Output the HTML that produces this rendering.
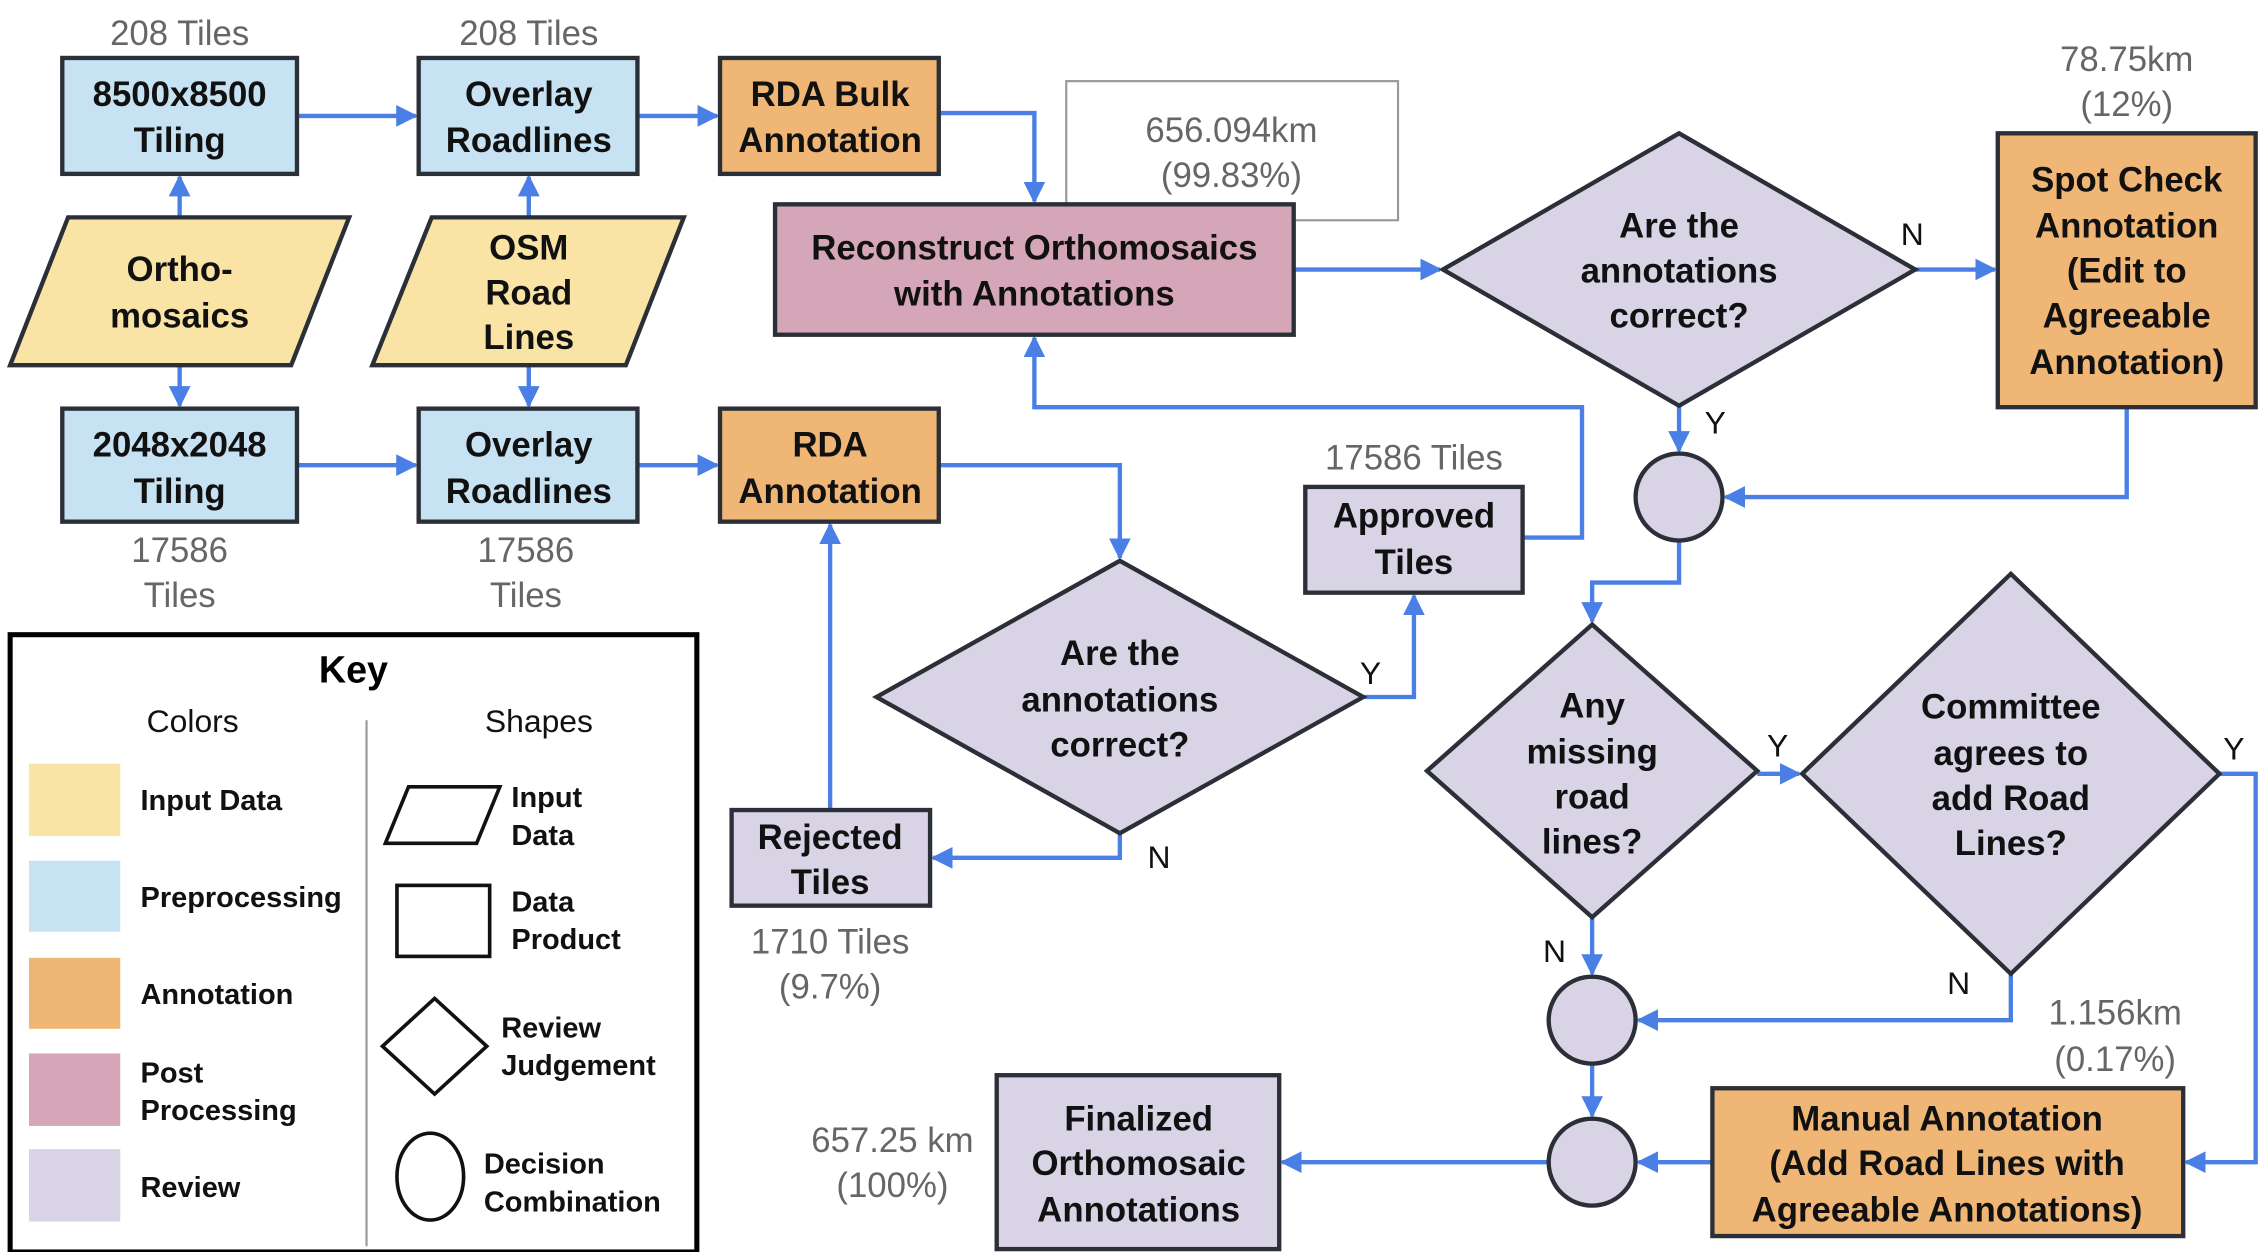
<!DOCTYPE html>
<html><head><meta charset="utf-8"><style>
html,body{margin:0;padding:0;background:#fff;}
svg{display:block;}
text{font-family:"Liberation Sans",sans-serif;}
.t{font-size:24px;font-weight:bold;fill:#111;text-anchor:middle;}
.g{font-size:24px;fill:#666;text-anchor:middle;}
.k{font-size:20px;font-weight:bold;fill:#111;}
.yn{font-size:22px;fill:#111;text-anchor:middle;}
.b{stroke:#2b3038;stroke-width:3;}
.l{stroke:#4a7fe6;stroke-width:3;fill:none;marker-end:url(#a);}
</style></head><body>
<svg width="2260" height="1252" viewBox="0 0 1560 864" preserveAspectRatio="none" xmlns="http://www.w3.org/2000/svg">
<defs><marker id="a" viewBox="0 0 10 10" refX="9" refY="5" markerWidth="5" markerHeight="5" orient="auto"><path d="M0,0L10,5L0,10z" fill="#4a7fe6"/></marker></defs>

<!-- connectors -->
<path class="l" d="M205,80H287"/>
<path class="l" d="M440,80H495"/>
<path class="l" d="M648,78H714V139"/>
<path class="l" d="M124,150V122"/>
<path class="l" d="M124,252V280"/>
<path class="l" d="M365,150V122"/>
<path class="l" d="M365,252V280"/>
<path class="l" d="M205,321H287"/>
<path class="l" d="M440,321H495"/>
<path class="l" d="M648,321H773V385"/>
<path class="l" d="M893,186H994"/>
<path class="l" d="M1322,186H1377"/>
<path class="l" d="M1159,280V311"/>
<path class="l" d="M1468,281V343H1191"/>
<path class="l" d="M1159,373V402H1099V429"/>
<path class="l" d="M941,481H976V411"/>
<path class="l" d="M773,575V592H644"/>
<path class="l" d="M573,559V362"/>
<path class="l" d="M1051,371H1092V281H714V233"/>
<path class="l" d="M1213,534H1242"/>
<path class="l" d="M1532,534H1557V802H1509"/>
<path class="l" d="M1099,633V672"/>
<path class="l" d="M1388,672V704H1131"/>
<path class="l" d="M1099,734V770"/>
<path class="l" d="M1182,802H1131"/>
<path class="l" d="M1069,802H885"/>

<!-- top row -->
<text class="g" x="124" y="31">208 Tiles</text>
<text class="g" x="365" y="31">208 Tiles</text>
<rect class="b" x="43" y="40" width="162" height="80" fill="#c6e2f3"/>
<text class="t" x="124" y="73">8500x8500</text><text class="t" x="124" y="105">Tiling</text>
<rect class="b" x="289" y="40" width="151" height="80" fill="#c6e2f3"/>
<text class="t" x="365" y="73">Overlay</text><text class="t" x="365" y="105">Roadlines</text>
<rect class="b" x="497" y="40" width="151" height="80" fill="#efb676"/>
<text class="t" x="573" y="73">RDA Bulk</text><text class="t" x="573" y="105">Annotation</text>

<polygon class="b" points="47,150 241,150 201,252 7,252" fill="#f9e4a6"/>
<text class="t" x="124" y="194">Ortho-</text><text class="t" x="124" y="226">mosaics</text>
<polygon class="b" points="298,150 472,150 432,252 257,252" fill="#f9e4a6"/>
<text class="t" x="365" y="179">OSM</text><text class="t" x="365" y="210">Road</text><text class="t" x="365" y="241">Lines</text>

<rect class="b" x="43" y="282" width="162" height="78" fill="#c6e2f3"/>
<text class="t" x="124" y="315">2048x2048</text><text class="t" x="124" y="347">Tiling</text>
<rect class="b" x="289" y="282" width="151" height="78" fill="#c6e2f3"/>
<text class="t" x="365" y="315">Overlay</text><text class="t" x="365" y="347">Roadlines</text>
<rect class="b" x="497" y="282" width="151" height="78" fill="#efb676"/>
<text class="t" x="573" y="315">RDA</text><text class="t" x="573" y="347">Annotation</text>
<text class="g" x="124" y="388">17586</text><text class="g" x="124" y="419">Tiles</text>
<text class="g" x="363" y="388">17586</text><text class="g" x="363" y="419">Tiles</text>

<!-- reconstruct -->
<rect x="736" y="56" width="229" height="96" fill="none" stroke="#999" stroke-width="1.5"/>
<text class="g" x="850" y="98">656.094km</text><text class="g" x="850" y="129">(99.83%)</text>
<rect class="b" x="535" y="141" width="358" height="90" fill="#d4a6b8"/>
<text class="t" x="714" y="179">Reconstruct Orthomosaics</text><text class="t" x="714" y="211">with Annotations</text>

<!-- diamond 1 -->
<polygon class="b" points="1159,92 1322,186 1159,280 996,186" fill="#d9d3e6"/>
<text class="t" x="1159" y="164">Are the</text><text class="t" x="1159" y="195">annotations</text><text class="t" x="1159" y="226">correct?</text>
<text class="yn" x="1320" y="169">N</text><text class="yn" x="1184" y="299">Y</text>

<text class="g" x="1468" y="49">78.75km</text><text class="g" x="1468" y="80">(12%)</text>
<rect class="b" x="1379" y="92" width="178" height="189" fill="#efb676"/>
<text class="t" x="1468" y="132">Spot Check</text><text class="t" x="1468" y="164">Annotation</text><text class="t" x="1468" y="195">(Edit to</text><text class="t" x="1468" y="226">Agreeable</text><text class="t" x="1468" y="258">Annotation)</text>

<circle class="b" cx="1159" cy="343" r="30" fill="#d9d3e6"/>

<text class="g" x="976" y="324">17586 Tiles</text>
<rect class="b" x="901" y="336" width="150" height="73" fill="#d9d3e6"/>
<text class="t" x="976" y="364">Approved</text><text class="t" x="976" y="396">Tiles</text>

<!-- diamond 2 -->
<polygon class="b" points="773,387 941,481 773,575 605,481" fill="#d9d3e6"/>
<text class="t" x="773" y="459">Are the</text><text class="t" x="773" y="491">annotations</text><text class="t" x="773" y="522">correct?</text>
<text class="yn" x="946" y="472">Y</text><text class="yn" x="800" y="599">N</text>

<rect class="b" x="505" y="559" width="137" height="66" fill="#d9d3e6"/>
<text class="t" x="573" y="586">Rejected</text><text class="t" x="573" y="617">Tiles</text>
<text class="g" x="573" y="658">1710 Tiles</text><text class="g" x="573" y="689">(9.7%)</text>

<!-- diamond 3,4 -->
<polygon class="b" points="1099,431 1213,532 1099,633 985,532" fill="#d9d3e6"/>
<text class="t" x="1099" y="495">Any</text><text class="t" x="1099" y="527">missing</text><text class="t" x="1099" y="558">road</text><text class="t" x="1099" y="589">lines?</text>
<text class="yn" x="1227" y="522">Y</text><text class="yn" x="1073" y="664">N</text>
<polygon class="b" points="1388,396 1532,534 1388,672 1244,534" fill="#d9d3e6"/>
<text class="t" x="1388" y="496">Committee</text><text class="t" x="1388" y="528">agrees to</text><text class="t" x="1388" y="559">add Road</text><text class="t" x="1388" y="590">Lines?</text>
<text class="yn" x="1542" y="524">Y</text><text class="yn" x="1352" y="686">N</text>

<circle class="b" cx="1099" cy="704" r="30" fill="#d9d3e6"/>
<circle class="b" cx="1099" cy="802" r="30" fill="#d9d3e6"/>

<text class="g" x="1460" y="707">1.156km</text><text class="g" x="1460" y="739">(0.17%)</text>
<rect class="b" x="1182" y="751" width="325" height="102" fill="#efb676"/>
<text class="t" x="1344" y="780">Manual Annotation</text><text class="t" x="1344" y="811">(Add Road Lines with</text><text class="t" x="1344" y="843">Agreeable Annotations)</text>

<rect class="b" x="688" y="742" width="195" height="120" fill="#d9d3e6"/>
<text class="t" x="786" y="780">Finalized</text><text class="t" x="786" y="811">Orthomosaic</text><text class="t" x="786" y="843">Annotations</text>
<text class="g" x="616" y="795">657.25 km</text><text class="g" x="616" y="826">(100%)</text>

<!-- key -->
<rect x="7" y="438" width="474" height="426" fill="#fff" stroke="#000" stroke-width="3.5"/>
<text x="244" y="471" style="font-size:26px;font-weight:bold;text-anchor:middle;">Key</text>
<text x="133" y="505" class="t" style="font-size:22px;font-weight:normal">Colors</text>
<text x="372" y="505" class="t" style="font-size:22px;font-weight:normal">Shapes</text>
<line x1="253" y1="497" x2="253" y2="860" stroke="#999" stroke-width="1.5"/>
<rect x="20" y="527" width="63" height="50" fill="#f9e4a6"/><text class="k" x="97" y="559">Input Data</text>
<rect x="20" y="594" width="63" height="49" fill="#c6e2f3"/><text class="k" x="97" y="626">Preprocessing</text>
<rect x="20" y="661" width="63" height="49" fill="#efb676"/><text class="k" x="97" y="693">Annotation</text>
<rect x="20" y="727" width="63" height="50" fill="#d4a6b8"/><text class="k" x="97" y="747">Post</text><text class="k" x="97" y="773">Processing</text>
<rect x="20" y="793" width="63" height="50" fill="#d9d3e6"/><text class="k" x="97" y="826">Review</text>
<polygon points="282,543 345,543 329,582 266,582" fill="none" stroke="#111" stroke-width="2.5"/>
<text class="k" x="353" y="557">Input</text><text class="k" x="353" y="583">Data</text>
<rect x="274" y="611" width="64" height="49" fill="none" stroke="#111" stroke-width="2.5"/>
<text class="k" x="353" y="629">Data</text><text class="k" x="353" y="655">Product</text>
<polygon points="300,689 336,722 300,755 264,722" fill="none" stroke="#111" stroke-width="2.5"/>
<text class="k" x="346" y="716">Review</text><text class="k" x="346" y="742">Judgement</text>
<ellipse cx="297" cy="812" rx="23" ry="30" fill="none" stroke="#111" stroke-width="2.5"/>
<text class="k" x="334" y="810">Decision</text><text class="k" x="334" y="836">Combination</text>
</svg>
</body></html>
